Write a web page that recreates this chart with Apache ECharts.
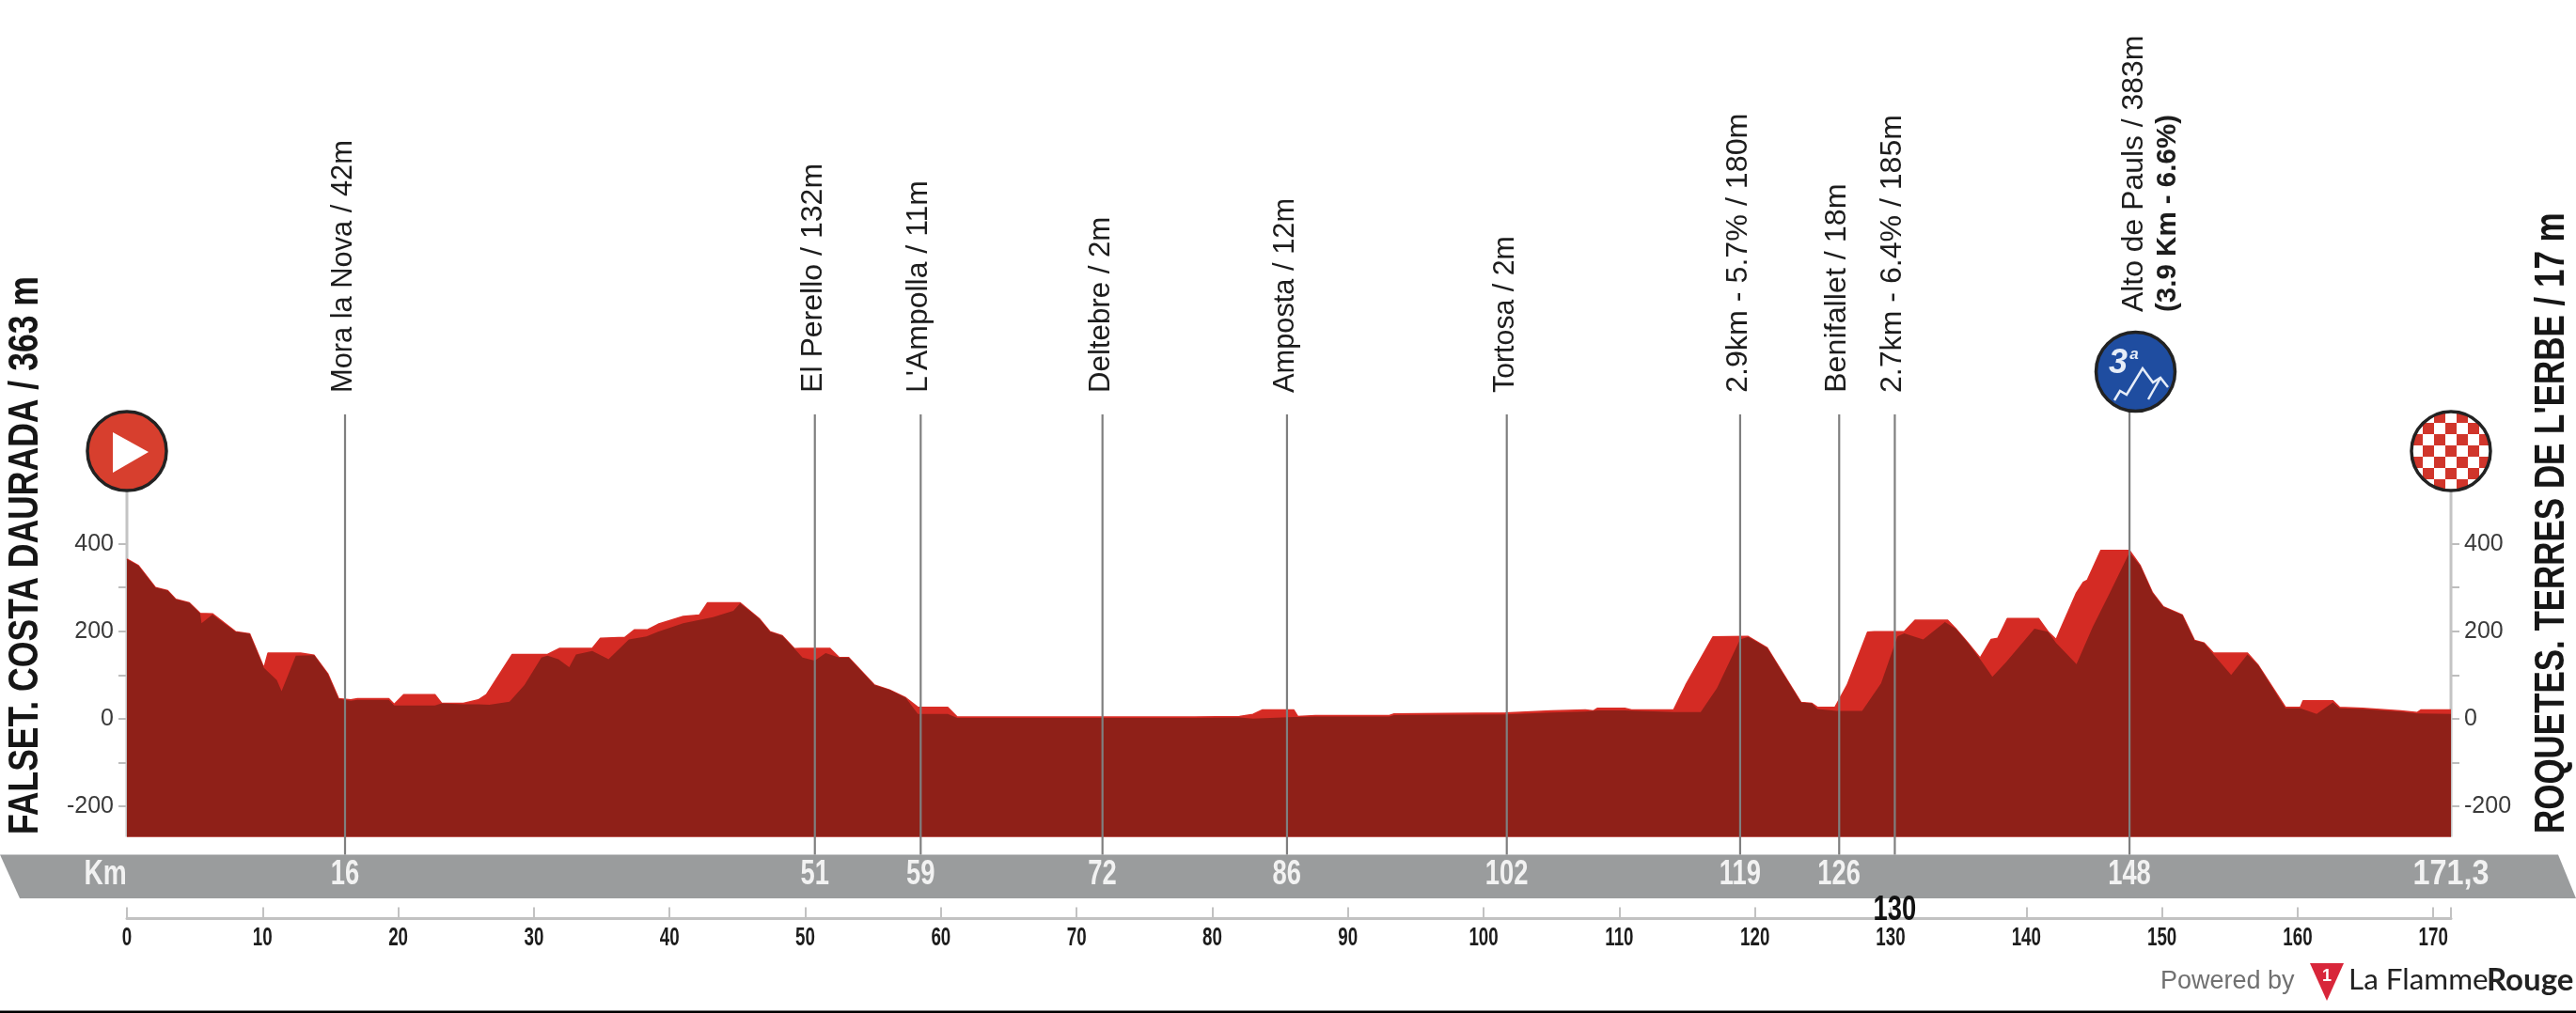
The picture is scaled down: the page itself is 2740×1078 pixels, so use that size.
<!DOCTYPE html>
<html><head><meta charset="utf-8">
<style>html,body{margin:0;padding:0;background:#fff}#c{width:2740px;height:1078px}</style>
<script src="https://cdn.jsdelivr.net/npm/echarts@6/dist/echarts.min.js"></script>
</head><body><div id="c"></div>
<script>
const upperKm=[0,0.85,2.1,3,3.6,4.6,5.4,6.3,8,9.05,10.1,10.4,12.8,13.8,14.8,15.6,16.5,17,19.3,19.7,20.4,22.7,23.2,24.8,25.9,26.5,28.4,31,31.9,34.3,34.9,36.7,37.4,38.4,39.15,41,42.2,42.8,45.2,46.6,47.4,48.3,49.2,49.7,51.8,52.5,53.2,55.1,56.2,57.4,58.3,60.5,61.2,78.7,82,83,83.7,86,86.3,87.6,93.05,93.4,101.6,105,107.5,108.1,108.4,110.4,110.9,114,114.9,116.9,119.5,120.9,121.7,123.4,124.2,124.6,125.9,126.8,128.3,128.8,131,131.8,134.2,134.8,135.7,136.6,137.4,137.9,138.6,140.9,141.6,142.2,142.5,143.7,144.2,144.5,145.5,147.6,148.4,149.3,150.1,151.5,152.4,153.1,153.8,156.3,157.1,159.1,160.2,160.4,162.6,163.1,164.8,167.6,168.8,169.1,171.3];
const upperAlt=[365,350,300,293,273,265,241,240,199,194,116,150,150,145,103,46,43,46,46,33,55,55,35,35,43,55,147,147,161,161,184,186,203,204,216,234,237,265,265,229,199,190,160,161,161,140,140,77,66,48,26,26,4,4,5,10,20,20,5,7,7,11,13,18,20,18,24,24,20,20,77,187,188,162,122,37,35,26,26,77,198,199,199,225,225,206,173,139,181,184,229,229,199,181,203,288,312,317,385,385,350,288,256,237,179,173,150,150,122,26,26,41,41,26,24,18,14,20,20];
const frontKm=[0,0.85,2.1,3,3.6,4.6,5.4,5.5,6.3,8,9.05,10.1,11.05,11.4,12.45,13.8,14.8,15.6,16.5,17,19.3,19.7,22.7,23.2,24.8,25.9,26.7,28.2,29.3,30.55,31,31.8,32.6,33.1,34.3,35.5,37,38.3,39.15,41,43.2,44.7,45.2,46.6,47.4,48.3,49.2,49.8,50.7,51.5,52.5,53.2,55.1,56.2,57.4,58.3,60.5,61.2,78.7,82,83,86,86.3,87.6,93.05,93.4,101.6,105,107.5,108.4,110.4,114,116,117.2,118.9,119.5,120.9,121.7,123.4,124.2,124.6,126,127.9,129.3,130.5,131,132.4,134,134.8,135.7,136.6,137.5,138.5,140.6,141.6,142.2,143.7,144.9,146.2,147.6,148.4,149.3,150.1,151.5,152.4,153.1,153.8,155.1,156.3,157.1,159.1,160.2,161.4,162.6,163.1,164.8,167.6,168.8,169.1,171.3];
const frontAlt=[365,350,300,293,273,265,241,218,238,199,194,116,88,63,144,145,103,46,41,43,43,30,30,35,33,33,32,39,77,140,144,136,118,147,155,136,181,188,199,218,232,247,264,229,199,190,160,140,133,150,140,140,77,66,48,11,11,2,2,3,0,4,4,5,5,8,10,14,16,19,19,15,15,70,181,187,162,122,37,35,22,18,18,81,188,195,181,221,206,173,136,96,129,206,199,173,125,210,291,380,350,288,256,237,179,173,147,100,147,122,24,24,11,37,24,22,16,12,12,11];
const stopKm=[16.07,50.7,58.5,71.9,85.5,101.7,118.9,126.2,130.3,147.6];
const stopKmLabels=['16','51','59','72','86','102','119','126','130','148'];
const stopNames=['Mora la Nova / 42m','El Perello / 132m',"L'Ampolla / 11m",'Deltebre / 2m','Amposta / 12m','Tortosa / 2m','2.9km - 5.7% / 180m','Benifallet / 18m','2.7km - 6.4% / 185m','Alto de Pauls / 383m'];
const climbDetail='(3.9 Km - 6.6%)';
const kmTicks=[0,10,20,30,40,50,60,70,80,90,100,110,120,130,140,150,160,170,171.3];
const kmTickLabels=[0,10,20,30,40,50,60,70,80,90,100,110,120,130,140,150,160,170];
const altTicks=[-200,-100,0,100,200,300,400];
const altTickLabels=[-200,0,200,400];
const startTitle='FALSET. COSTA DAURADA / 363 m';
const finishTitle="ROQUETES. TERRES DE L'ERBE / 17 m";
const endKm=171.3, baseAlt=-270;

const sansFont='"Liberation Sans"';
const stopStretch=[0.994,1.034,1.032,1.007,0.993,0.978,1.04,1.042,1.035,1.029];
const chart=echarts.init(document.getElementById('c'),null,{renderer:'canvas',width:2740,height:1078});

const chk=document.createElement('canvas');chk.width=chk.height=24;
const g=chk.getContext('2d');g.fillStyle='#fff';g.fillRect(0,0,24,24);g.fillStyle='#d0352b';
g.fillRect(0,0,6,6);g.fillRect(18,0,6,6);g.fillRect(0,18,6,6);g.fillRect(18,18,6,6);g.fillRect(6,6,12,12);

function rotatedText(text,x,y,font,fill,stretch){
  return {type:'text',x:x,y:y,rotation:Math.PI/2,scaleX:stretch||1,z:20,style:{text:text,font:font,fill:fill,align:'left',verticalAlign:'middle'}};
}
function narrowText(text,x,y,font,fill,sx){
  return {type:'text',x:x,y:y,scaleX:sx,z:20,style:{text:text,font:font,fill:fill,align:'center',verticalAlign:'middle'}};
}
const yAxisBase={type:'value',min:-300,max:700,interval:100,splitLine:{show:false},axisLine:{show:false},
  axisTick:{show:true,length:9,customValues:altTicks,lineStyle:{color:'#bdbdbd',width:2}},
  axisLabel:{show:true,customValues:altTickLabels,margin:14,fontFamily:sansFont,fontSize:25,color:'#3a3a3a'}};

chart.setOption({
  animation:false,backgroundColor:'#fff',
  grid:{left:135,right:133,top:439.1,bottom:173.6,containLabel:false},
  xAxis:{type:'value',min:0,max:endKm,position:'bottom',offset:73,splitLine:{show:false},
    axisLine:{show:true,onZero:false,lineStyle:{color:'#c2c2c2',width:3}},
    axisTick:{show:true,inside:true,length:12,customValues:kmTicks,lineStyle:{color:'#c2c2c2',width:2}},
    axisLabel:{show:false}},
  yAxis:[Object.assign({},yAxisBase,{position:'left'}),Object.assign({},yAxisBase,{position:'right'})],
  series:[
   {type:'line',name:'Elevation',data:upperKm.map((k,i)=>[k,upperAlt[i]]),showSymbol:false,symbol:'none',smooth:false,z:2,
    lineStyle:{color:'#d92c25',width:1.5},areaStyle:{color:'#d42b24',origin:baseAlt,opacity:1}},
   {type:'line',name:'Relief',data:frontKm.map((k,i)=>[k,frontAlt[i]]),showSymbol:false,symbol:'none',smooth:false,z:3,
    lineStyle:{width:0},areaStyle:{color:'#8f2018',origin:baseAlt,opacity:1}},
   {type:'custom',name:'Stops',z:5,clip:false,data:stopKm.map((k,i)=>[k,i]),encode:{x:0},
    renderItem(params,api){
      const i=api.value(1);const x=api.coord([api.value(0),0])[0];
      const last=i===stopKm.length-1;
      const top=last?436:441;
      const ch=[{type:'rect',shape:{x:x-1,y:top,width:2.2,height:909.6-top},style:{fill:'#7f7f7f'},z:10},
        rotatedText(stopNames[i],x+(last?5:-1.5),last?332:418,'31px '+sansFont,'#1d1d1d',stopStretch[i])];
      if(last)ch.push(rotatedText(climbDetail,x+41,332,'bold 30px '+sansFont,'#1d1d1d',0.984));
      ch.push(narrowText(stopKmLabels[i],x,i===8?969:931,'bold 36px '+sansFont,i===8?'#111':'#f2f2f2',0.76));
      return {type:'group',children:ch};
    }},
   {type:'custom',name:'Km labels',z:5,clip:false,data:kmTickLabels.map(k=>[k]),encode:{x:0},
    renderItem(params,api){
      const x=api.coord([api.value(0),0])[0];
      return narrowText(String(api.value(0)),x,998,'bold 28px '+sansFont,'#1c1c1c',0.67);
    }},
   {type:'custom',name:'Ends',z:1,clip:false,data:[[0],[endKm]],encode:{x:0},
    renderItem(params,api){
      const a=api.coord([api.value(0),baseAlt]),b=api.coord([api.value(0),519]);
      return {type:'rect',shape:{x:a[0]-1.5,y:b[1],width:3,height:a[1]-b[1]},style:{fill:'#c4c4c4'}};
    }}
  ],
  graphic:[
   {type:'polygon',z:0,shape:{points:[[0,909.6],[2721,909.6],[2740,956],[21,956]]},style:{fill:'#9a9c9d'}},
   narrowText('Km',112,931,'bold 36px '+sansFont,'#f2f2f2',0.78),
   narrowText('171,3',2607,931,'bold 36px '+sansFont,'#f2f2f2',0.9),
   rotatedText(startTitle,28,888,'bold 44px '+sansFont,'#161616',0.808),
   rotatedText(finishTitle,2715,887,'bold 44px '+sansFont,'#161616',0.794),
   {type:'circle',z:30,shape:{cx:135,cy:480,r:42},style:{fill:'#d73f2e',stroke:'#222',lineWidth:3.5}},
   {type:'polygon',z:31,shape:{points:[[120,460],[120,503],[158,481]]},style:{fill:'#fff'}},
   {type:'circle',z:30,x:2607,y:480,shape:{cx:0,cy:0,r:42},style:{fill:{image:chk,repeat:'repeat'},stroke:'#222',lineWidth:3.5}},
   {type:'circle',z:30,shape:{cx:2271.5,cy:395.5,r:42},style:{fill:'#1f4da0',stroke:'#222',lineWidth:3.5}},
   {type:'text',z:31,x:2253,y:387,style:{text:'3',font:'italic bold 36px '+sansFont,fill:'#e6edf8',align:'center',verticalAlign:'middle'}},
   {type:'text',z:31,x:2270,y:377,style:{text:'a',font:'italic bold 17px '+sansFont,fill:'#e6edf8',align:'center',verticalAlign:'middle'}},
   {type:'polyline',z:31,shape:{points:[[2249,426],[2255,416],[2262,420],[2279,392],[2290,407],[2298,402],[2306,412]]},style:{stroke:'#e6edf8',fill:'none',lineWidth:2.5}},
   {type:'polyline',z:31,shape:{points:[[2298,402],[2285,425]]},style:{stroke:'#e6edf8',fill:'none',lineWidth:2.5}},
   {type:'text',z:20,x:2298,y:1045,style:{text:'Powered by',font:'27px '+sansFont,fill:'#707070',align:'left',verticalAlign:'middle'}},
   {type:'polygon',z:20,shape:{points:[[2457,1025],[2493,1025],[2475,1065]]},style:{fill:'#d8263a'}},
   {type:'text',z:21,x:2475,y:1039,style:{text:'1',font:'bold 18px '+sansFont,fill:'#fff',align:'center',verticalAlign:'middle'}},
   {type:'text',z:20,x:2498,y:1043,scaleX:1.03,style:{text:'La Flamme',font:'30.5px Lato',fill:'#222',align:'left',verticalAlign:'middle'}},
   {type:'text',z:20,x:2645,y:1043,style:{text:'Rouge',font:'bold 33px Lato',fill:'#222',align:'left',verticalAlign:'middle'}},
   {type:'rect',z:20,shape:{x:0,y:1075.5,width:2740,height:2.5},style:{fill:'#000'}}
  ]
});
</script></body></html>
